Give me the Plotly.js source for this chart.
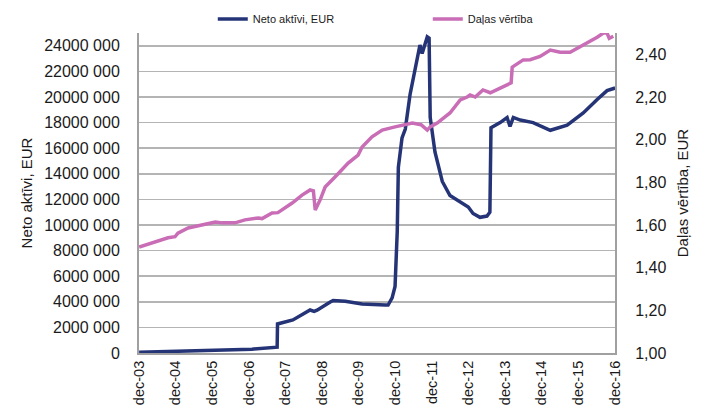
<!DOCTYPE html>
<html>
<head>
<meta charset="utf-8">
<script src="https://cdn.plot.ly/plotly-3.0.1.min.js"></script>
<style>html,body{margin:0;padding:0;background:#fff;}#chart{width:702px;height:406px;}</style>
</head>
<body>
<div id="chart"></div>
<script>
// Net assets (EUR) — decimal year / value
const netYears = [2003.92, 2005.0, 2006.0, 2007.0, 2007.69, 2007.70, 2008.12, 2008.40, 2008.59, 2008.70, 2008.78, 2009.14, 2009.22, 2009.55, 2010.01, 2010.64, 2010.72, 2010.83, 2010.91, 2010.97, 2011.00, 2011.10, 2011.19, 2011.32, 2011.51, 2011.59, 2011.65, 2011.73, 2011.79, 2011.84, 2011.87, 2012.00, 2012.20, 2012.41, 2012.69, 2012.91, 2013.04, 2013.23, 2013.42, 2013.50, 2013.53, 2013.78, 2013.97, 2014.05, 2014.14, 2014.33, 2014.68, 2015.15, 2015.61, 2016.05, 2016.43, 2016.70, 2016.92];
const netValues = [50000, 120000, 200000, 300000, 450000, 2270000, 2580000, 3000000, 3360000, 3250000, 3350000, 3980000, 4100000, 4050000, 3830000, 3750000, 3750000, 4300000, 5200000, 9500000, 14500000, 16800000, 17500000, 20200000, 22700000, 24060000, 23400000, 24060000, 24700000, 24600000, 18400000, 15700000, 13400000, 12300000, 11800000, 11400000, 10900000, 10600000, 10700000, 11000000, 17600000, 18000000, 18400000, 17700000, 18400000, 18200000, 18000000, 17400000, 17800000, 18750000, 19800000, 20500000, 20700000];

// Unit value (EUR) — decimal year / value
const unitYears = [2003.92, 2004.35, 2004.71, 2004.90, 2004.98, 2005.26, 2005.64, 2006.00, 2006.19, 2006.54, 2006.81, 2007.17, 2007.28, 2007.55, 2007.71, 2008.10, 2008.37, 2008.59, 2008.68, 2008.73, 2008.87, 2009.00, 2009.27, 2009.63, 2009.90, 2010.01, 2010.28, 2010.56, 2010.91, 2011.19, 2011.38, 2011.62, 2011.79, 2011.87, 2012.06, 2012.41, 2012.69, 2012.88, 2012.96, 2013.10, 2013.31, 2013.51, 2013.78, 2013.97, 2014.08, 2014.11, 2014.41, 2014.60, 2014.87, 2015.15, 2015.42, 2015.69, 2015.96, 2016.24, 2016.43, 2016.60, 2016.70, 2016.76, 2016.87];
const unitValues = [1.497, 1.52, 1.54, 1.545, 1.562, 1.586, 1.60, 1.614, 1.61, 1.61, 1.624, 1.633, 1.63, 1.656, 1.658, 1.703, 1.74, 1.764, 1.76, 1.67, 1.72, 1.778, 1.825, 1.89, 1.928, 1.966, 2.013, 2.045, 2.06, 2.069, 2.078, 2.07, 2.045, 2.06, 2.078, 2.125, 2.186, 2.20, 2.21, 2.20, 2.233, 2.22, 2.24, 2.256, 2.266, 2.34, 2.374, 2.375, 2.39, 2.42, 2.41, 2.41, 2.435, 2.46, 2.48, 2.50, 2.50, 2.475, 2.485];

// Axis ticks
const xTickYears = [2003.917, 2004.917, 2005.917, 2006.917, 2007.917, 2008.917, 2009.917, 2010.917, 2011.917, 2012.917, 2013.917, 2014.917, 2015.917, 2016.917];
const xTickLabels = ["dec-03", "dec-04", "dec-05", "dec-06", "dec-07", "dec-08", "dec-09", "dec-10", "dec-11", "dec-12", "dec-13", "dec-14", "dec-15", "dec-16"];
const leftTickValues = [0, 2000000, 4000000, 6000000, 8000000, 10000000, 12000000, 14000000, 16000000, 18000000, 20000000, 22000000, 24000000];
const leftTickLabels = ["0", "2000 000", "4000 000", "6000 000", "8000 000", "10000 000", "12000 000", "14000 000", "16000 000", "18000 000", "20000 000", "22000 000", "24000 000"];

const seriesNames = ["Neto aktīvi, EUR", "Daļas vērtība"];

const font = "Liberation Sans, Arial, sans-serif";
const axisGray = "#a0a0a0";

const traces = [
  {x: netYears, y: netValues, type: "scatter", mode: "lines", name: seriesNames[0],
   line: {color: "#253476", width: 3.5}, yaxis: "y"},
  {x: unitYears, y: unitValues, type: "scatter", mode: "lines", name: seriesNames[1],
   line: {color: "#c96db6", width: 3.5}, yaxis: "y2"}
];

const layout = {
  width: 702, height: 406,
  margin: {l: 139, r: 87, t: 33, b: 53, pad: 0, autoexpand: false},
  paper_bgcolor: "#fff", plot_bgcolor: "#fff",
  separators: ", ",
  font: {family: font, color: "#1a1a1a", size: 16},
  showlegend: true,
  legend: {orientation: "h", x: 0.155, xanchor: "left", y: 1.044, yanchor: "middle",
           font: {family: font, size: 11, color: "#1a1a1a"}, bgcolor: "rgba(0,0,0,0)",
           entrywidthmode: "pixels", entrywidth: 170, traceorder: "normal"},
  xaxis: {range: [2003.917, 2016.917], tickmode: "array", tickvals: xTickYears, ticktext: xTickLabels,
          tickangle: -90, ticks: "", showgrid: false, zeroline: false, ticklabelstandoff: 0,
          showline: true, linecolor: axisGray, linewidth: 2, tickfont: {size: 14.5, color: "#1a1a1a"},
          automargin: false, fixedrange: true},
  yaxis: {range: [0, 25000000], tickmode: "array", tickvals: leftTickValues, ticktext: leftTickLabels,
          showgrid: true, gridcolor: "#b4b4b4", gridwidth: 1.5, zeroline: false,
          showline: true, linecolor: axisGray, linewidth: 2, ticks: "", ticklabelstandoff: 14,
          tickfont: {size: 16, color: "#1a1a1a"},
          title: {text: "Neto aktīvi, EUR", font: {size: 15, color: "#1a1a1a"}, standoff: 8},
          automargin: false, fixedrange: true},
  yaxis2: {overlaying: "y", side: "right", range: [1, 2.5], dtick: 0.2, tick0: 1, tickformat: ".2f",
           showgrid: false, zeroline: false, showline: true, linecolor: axisGray, linewidth: 2,
           ticks: "", ticklabelstandoff: 15, tickfont: {size: 16, color: "#1a1a1a"},
           title: {text: "Daļas vērtība, EUR", font: {size: 15, color: "#1a1a1a"}, standoff: 12},
           automargin: false, fixedrange: true}
};

Plotly.newPlot("chart", traces, layout, {displayModeBar: false, staticPlot: true});
</script>
</body>
</html>
